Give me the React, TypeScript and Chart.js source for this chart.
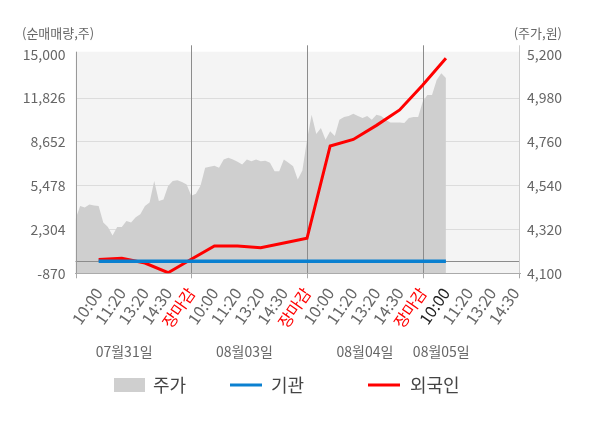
import { useEffect, useRef } from 'react'
import { Chart, registerables } from 'chart.js'
import type { Plugin } from 'chart.js'

Chart.register(...registerables)

const FONT = '"Noto Sans CJK KR", "Noto Sans", sans-serif'

// one slot per x label, each trading day is 5 slots starting at 9:00
const timeLabels = [
  '',
  '10:00', '11:20', '13:20', '14:30', '장마감',
  '10:00', '11:20', '13:20', '14:30', '장마감',
  '10:00', '11:20', '13:20', '14:30', '장마감',
  '10:00', '11:20', '13:20', '14:30'
]
const dayNames = ['07월31일', '08월03일', '08월04일', '08월05일']
const leftTicks = [-870, 2304, 5478, 8652, 11826, 15000]
const rightTicks = [4100, 4320, 4540, 4760, 4980, 5200]

// 주가, sampled 5 times per slot
const priceDay1 = [4371, 4438, 4430, 4445, 4440, 4438, 4355, 4333, 4290, 4333, 4333, 4363, 4355, 4381, 4396, 4438, 4456, 4563, 4463, 4471, 4538, 4563, 4568, 4558, 4546]
const priceDay2 = [4490, 4500, 4540, 4630, 4635, 4640, 4630, 4671, 4681, 4671, 4660, 4646, 4671, 4663, 4671, 4663, 4665, 4655, 4613, 4613, 4671, 4655, 4638, 4571, 4616]
const priceDay3 = [4771, 4896, 4800, 4830, 4771, 4813, 4790, 4871, 4885, 4890, 4901, 4890, 4880, 4890, 4871, 4896, 4890, 4871, 4858, 4858, 4858, 4855, 4880, 4885, 4885]
const priceDay4 = [4963, 4996, 4996, 5071, 5105, 5081]

// 순매매량, one value per slot from the first 10:00
const institution = [0, 0, 0, 0, 0, 0, 0, 0, 0, 0, 0, 0, 0, 0, 0, 0]
const foreign = [130, 218, -123, -826, 145, 1109, 1109, 986, 1327, 1668, 8359, 8830, 9850, 10969, 12782, 14718]

const SAMPLES_PER_SLOT = 5
const SLOTS_PER_DAY = 5
const X_MAX = 19.2
const lastSlot = foreign.length

const gridColor = '#dcdcdc'
const darkLine = '#8c8c8c'
const textGray = '#666666'

const chartDecor: Plugin<'line'> = {
  id: 'chartDecor',
  beforeDraw(chart) {
    const { ctx, chartArea } = chart
    ctx.save()
    ctx.fillStyle = '#f4f4f4'
    ctx.fillRect(chartArea.left, chartArea.top - 2.6, chartArea.right - chartArea.left, chartArea.bottom - chartArea.top + 2.6)
    ctx.restore()
  },
  afterDatasetDraw(chart, args) {
    // lines that sit over the price area but under the net-buy lines
    if (args.index !== 2) return
    const { ctx, chartArea, scales } = chart
    ctx.save()
    ctx.lineWidth = 1
    ctx.strokeStyle = darkLine
    const zy = Math.round(scales.y.getPixelForValue(0)) + 0.5
    ctx.beginPath()
    ctx.moveTo(chartArea.left, zy)
    ctx.lineTo(chartArea.right, zy)
    ctx.stroke()
    for (let d = 1; d < dayNames.length; d++) {
      const x = Math.round(scales.x.getPixelForValue(d * SLOTS_PER_DAY)) + 0.5
      ctx.beginPath()
      ctx.moveTo(x, chartArea.top - 9)
      ctx.lineTo(x, chartArea.bottom)
      ctx.stroke()
    }
    ctx.restore()
  },
  afterDraw(chart) {
    const { ctx, chartArea, scales } = chart
    ctx.save()
    // frame
    ctx.lineWidth = 1
    ctx.strokeStyle = '#999999'
    const lx = Math.round(chartArea.left) + 0.5
    ctx.beginPath()
    ctx.moveTo(lx, chartArea.top - 2.6)
    ctx.lineTo(lx, chartArea.bottom)
    ctx.stroke()
    ctx.strokeStyle = '#cccccc'
    const rx = Math.round(chartArea.right) - 0.5
    ctx.beginPath()
    ctx.moveTo(rx, chartArea.top - 9)
    ctx.lineTo(rx, chartArea.bottom)
    ctx.stroke()
    // short ticks under the day boundaries
    ctx.strokeStyle = '#aaaaaa'
    const marks = [0, 5, 10, 15, X_MAX]
    marks.forEach((m) => {
      const x = Math.round(scales.x.getPixelForValue(m)) + (m === X_MAX ? -0.5 : 0.5)
      ctx.beginPath()
      ctx.moveTo(x, chartArea.bottom)
      ctx.lineTo(x, chartArea.bottom + 5)
      ctx.stroke()
    })
    // axis titles
    ctx.fillStyle = textGray
    ctx.font = `13px ${FONT}`
    ctx.textBaseline = 'middle'
    ctx.textAlign = 'left'
    ctx.fillText('(순매매량,주)', 22, 33)
    ctx.textAlign = 'right'
    ctx.fillText('(주가,원)', 562, 33)
    // day names
    ctx.font = `14px ${FONT}`
    ctx.textAlign = 'center'
    const dayLabelAt = [2.1, 7.3, 12.5, 15.8]
    dayNames.forEach((name, i) => {
      ctx.fillText(name, scales.x.getPixelForValue(dayLabelAt[i]), 352)
    })
    // legend
    const ly = 385
    ctx.font = `18px ${FONT}`
    ctx.textAlign = 'left'
    ctx.fillStyle = '#cfcfcf'
    ctx.fillRect(114, ly - 7, 31, 14)
    ctx.fillStyle = '#444444'
    ctx.fillText('주가', 153, ly)
    ctx.lineWidth = 3
    ctx.strokeStyle = '#0a80d0'
    ctx.beginPath()
    ctx.moveTo(230, ly)
    ctx.lineTo(262, ly)
    ctx.stroke()
    ctx.fillText('기관', 271, ly)
    ctx.strokeStyle = '#ff0000'
    ctx.beginPath()
    ctx.moveTo(368, ly)
    ctx.lineTo(400, ly)
    ctx.stroke()
    ctx.fillText('외국인', 410, ly)
    ctx.restore()
  }
}

function App() {
  const canvasRef = useRef<HTMLCanvasElement>(null)

  useEffect(() => {
    document.body.style.margin = '0'
    const canvas = canvasRef.current
    if (!canvas) return

    const pricePoints = [priceDay1, priceDay2, priceDay3, priceDay4].flatMap((day, d) =>
      day.map((p, i) => ({ x: d * SLOTS_PER_DAY + i / SAMPLES_PER_SLOT, y: p }))
    )
    const foreignPoints = foreign.map((v, i) => ({ x: i + 1, y: v }))
    const institutionPoints = institution.map((v, i) => ({ x: i + 1, y: v }))

    const chart = new Chart(canvas, {
      type: 'line',
      data: {
        datasets: [
          {
            label: '외국인',
            data: foreignPoints,
            yAxisID: 'y',
            borderColor: '#ff0000',
            borderWidth: 3,
            pointRadius: 0,
            tension: 0,
            order: 2
          },
          {
            label: '기관',
            data: institutionPoints,
            yAxisID: 'y',
            borderColor: '#0a80d0',
            borderWidth: 3.5,
            pointRadius: 0,
            tension: 0,
            order: 1
          },
          {
            label: '주가',
            data: pricePoints,
            yAxisID: 'y2',
            borderWidth: 0,
            borderColor: '#cfcfcf',
            backgroundColor: '#cfcfcf',
            fill: 'start',
            pointRadius: 0,
            tension: 0,
            order: 3
          }
        ]
      },
      options: {
        responsive: true,
        maintainAspectRatio: false,
        animation: false,
        layout: { padding: { top: 54.3, left: 0, right: 0, bottom: 0 } },
        plugins: {
          legend: { display: false },
          tooltip: { enabled: false }
        },
        scales: {
          x: {
            type: 'linear',
            min: 0,
            max: X_MAX,
            afterBuildTicks: (scale) => {
              scale.ticks = timeLabels.map((_, i) => ({ value: i })).slice(1)
            },
            afterFit: (scale) => {
              scale.height = 428 - 54.3 - 219
            },
            grid: { display: false },
            border: { display: true, color: '#aaaaaa' },
            ticks: {
              autoSkip: false,
              minRotation: 55,
              maxRotation: 55,
              padding: 3,
              font: { family: FONT, size: 16 },
              color: (c) => {
                const v = c.tick?.value
                if (timeLabels[v] === '장마감') return '#ff0000'
                if (v === lastSlot) return '#222222'
                return textGray
              },
              callback: (v) => timeLabels[Number(v)] ?? ''
            }
          },
          y: {
            position: 'left',
            min: -870,
            max: 15000,
            afterBuildTicks: (scale) => {
              scale.ticks = leftTicks.map((v) => ({ value: v }))
            },
            afterFit: (scale) => {
              scale.width = 75.5
            },
            grid: {
              drawTicks: false,
              color: (c) => (c.tick && (c.tick.value === -870 || c.tick.value === 15000) ? 'rgba(0,0,0,0)' : gridColor)
            },
            border: { display: false },
            ticks: {
              padding: 10,
              font: { family: FONT, size: 14 },
              color: textGray,
              callback: (v) => Number(v).toLocaleString('en-US')
            }
          },
          y2: {
            position: 'right',
            min: 4100,
            max: 5200,
            afterBuildTicks: (scale) => {
              scale.ticks = rightTicks.map((v) => ({ value: v }))
            },
            afterFit: (scale) => {
              scale.width = 80
            },
            grid: { display: false, drawTicks: false },
            border: { display: false },
            ticks: {
              padding: 7,
              font: { family: FONT, size: 14 },
              color: textGray,
              callback: (v) => Number(v).toLocaleString('en-US')
            }
          }
        }
      },
      plugins: [chartDecor]
    })

    return () => {
      chart.destroy()
    }
  }, [])

  return (
    <div style={{ position: 'relative', width: 600, height: 428 }}>
      <canvas ref={canvasRef} />
    </div>
  )
}

export default App
